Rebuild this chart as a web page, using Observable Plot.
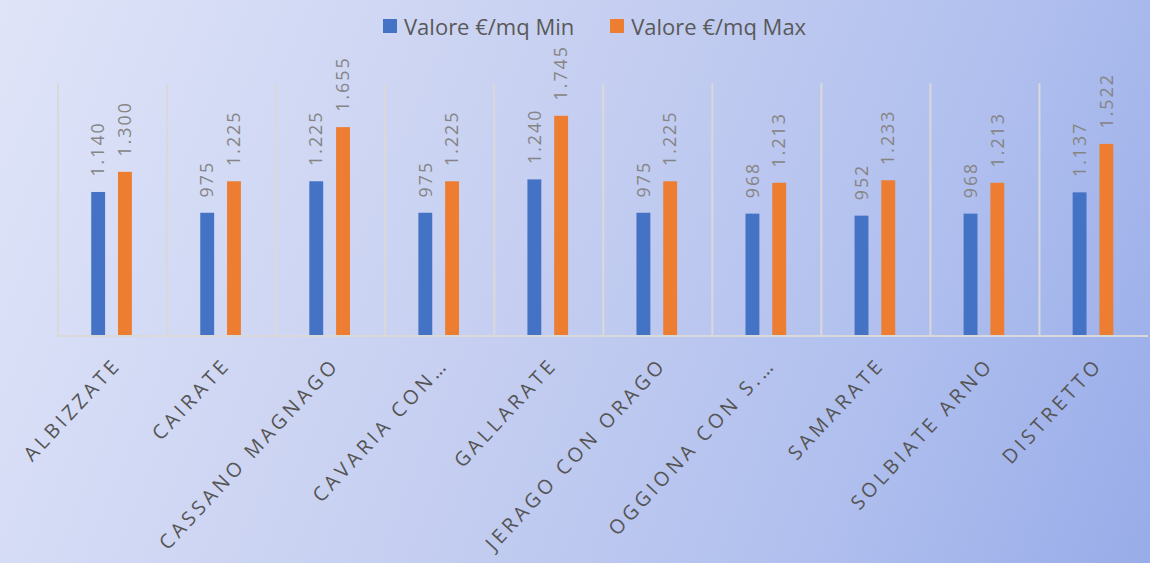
<!DOCTYPE html>
<html>
<head>
<meta charset="utf-8">
<script src="https://cdn.jsdelivr.net/npm/d3@7"></script>
<script src="https://cdn.jsdelivr.net/npm/@observablehq/plot@0.6"></script>
<style>
  html, body { margin: 0; padding: 0; }
  body {
    width: 1150px; height: 563px; overflow: hidden; position: relative;
    background: linear-gradient(112deg, #dfe4f8 0%, #c6cff1 45%, #b0bfee 75%, #98ace9 100%);
    font-family: "Open Sans", sans-serif;
  }
  #legend {
    position: absolute; left: 383px; top: 11px; height: 30px;
    display: flex; align-items: center; color: #595959; font-size: 22px;
  }
  #legend .item { display: flex; align-items: center; }
  #legend .sw { width: 14px; height: 14px; margin-right: 7px; }
  #legend .item + .item { margin-left: 36px; }
  #chart { position: absolute; left: 0; top: 50px; }
</style>
</head>
<body>
<div id="legend"></div>
<div id="chart"></div>
<script>
const categories = ["ALBIZZATE", "CAIRATE", "CASSANO MAGNAGO", "CAVARIA CON…", "GALLARATE",
  "JERAGO CON ORAGO", "OGGIONA CON S.…", "SAMARATE", "SOLBIATE ARNO", "DISTRETTO"];
const series = ["Valore €/mq Min", "Valore €/mq Max"];
const minValues = [1140, 975, 1225, 975, 1240, 975, 968, 952, 968, 1137];
const maxValues = [1300, 1225, 1655, 1225, 1745, 1225, 1213, 1233, 1213, 1522];
const colors = ["#4472C4", "#ED7D31"];

const data = [];
categories.forEach((c, i) => {
  data.push({cat: c, series: series[0], value: minValues[i]});
  data.push({cat: c, series: series[1], value: maxValues[i]});
});

const it = d3.formatLocale({decimal: ",", thousands: ".", grouping: [3], currency: ["€", ""]});
const fmt = it.format(",d");

// legend
const legend = document.getElementById("legend");
series.forEach((s, i) => {
  const item = document.createElement("div");
  item.className = "item";
  const sw = document.createElement("div");
  sw.className = "sw";
  sw.style.background = colors[i];
  const t = document.createElement("span");
  t.textContent = s;
  item.appendChild(sw); item.appendChild(t);
  legend.appendChild(item);
});

const chart = Plot.plot({
  width: 1160,
  height: 513,
  marginLeft: 56,
  marginRight: 0,
  marginTop: 34,
  marginBottom: 225,
  style: {background: "transparent", fontFamily: "Open Sans", overflow: "visible"},
  fx: {domain: categories, padding: 0, axis: null},
  x: {domain: series, paddingInner: 0.464, paddingOuter: 1.2, axis: null},
  y: {domain: [0, 2000], axis: null},
  color: {domain: series, range: colors},
  marks: [
    Plot.frame({anchor: "left", stroke: "#d9d9d9", strokeWidth: 2}),
    Plot.barY(data, {fx: "cat", x: "series", y: "value", fill: "series"}),
    Plot.ruleY([0], {stroke: "#d9d9d9", strokeWidth: 2}),
    Plot.text(data, {
      fx: "cat", x: "series", y: "value", text: d => fmt(d.value),
      rotate: -90, textAnchor: "start", lineAnchor: "middle", dy: -16,
      fontSize: 18, fill: "#858585"
    }),
    Plot.text(categories, {
      fx: d => d, text: d => d, frameAnchor: "bottom",
      rotate: -47, textAnchor: "end", lineAnchor: "bottom", dx: 10, dy: 30,
      fontSize: 20, fill: "#555555"
    })
  ]
});
document.getElementById("chart").appendChild(chart);

// letter spacing like the original
const catSet = new Set(categories);
d3.select(chart).selectAll("text").each(function() {
  const s = this.textContent;
  if (catSet.has(s)) this.style.letterSpacing = "3.8px";
  else if (/^[\d.]+$/.test(s)) this.style.letterSpacing = "2px";
});
</script>
</body>
</html>
